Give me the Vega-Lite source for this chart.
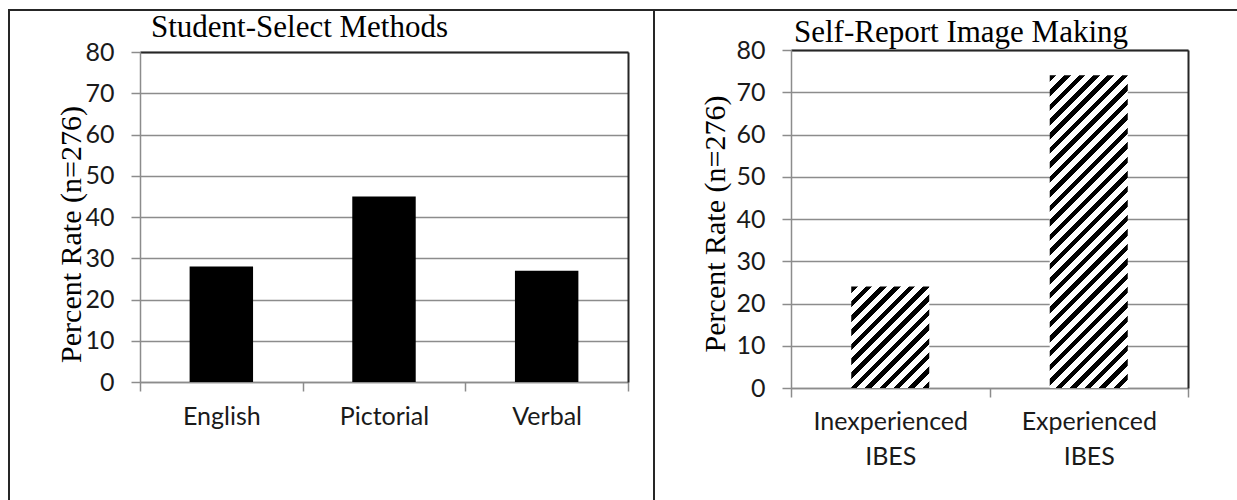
{
  "$schema": "https://vega.github.io/schema/vega-lite/v6.json",
  "padding": {"left": 8, "top": 9, "right": 0, "bottom": 0},
  "background": "white",
  "bounds": "flush",
  "spacing": 0,
  "config": {
    "view": {"stroke": "#262626", "strokeWidth": 2},
    "axis": {
      "labelFont": "Lato", "labelFontSize": 25, "labelColor": "#1a1a1a",
      "titleFont": "Liberation Serif", "titleFontSize": 30, "titleFontWeight": "normal", "titleColor": "#000",
      "gridColor": "#8c8c8c", "gridWidth": 1.5, "domainColor": "#8c8c8c", "domainWidth": 1.5,
      "tickColor": "#8c8c8c", "tickWidth": 1.5, "tickSize": 9
    },
    "title": {"font": "Liberation Serif", "fontSize": 31, "fontWeight": "normal", "color": "#000", "anchor": "start", "frame": "group", "offset": 0, "baseline": "alphabetic"}
  },
  "datasets": {
    "methods": [
      {"method": "English", "percent": 28},
      {"method": "Pictorial", "percent": 45},
      {"method": "Verbal", "percent": 27}
    ],
    "imaging": [
      {"group": "Inexperienced IBES", "percent": 24},
      {"group": "Experienced IBES", "percent": 74}
    ]
  },
  "hconcat": [
    {
      "width": 645,
      "height": 492,
      "title": {"text": "Student-Select Methods", "dx": 142, "dy": 38},
      "data": {"name": "methods"},
      "resolve": {"axis": {"x": "independent", "y": "independent"}},
      "layer": [
        {
          "mark": {"type": "bar", "color": "#000", "width": {"band": 0.39}},
          "encoding": {
            "x": {
              "field": "method", "type": "nominal", "sort": null,
              "scale": {"range": [131, 619], "paddingInner": 0, "paddingOuter": 0},
              "axis": {"orient": "bottom", "offset": -120, "title": null, "labelAngle": 0, "tickBand": "extent", "grid": false, "labelBaseline": "alphabetic", "labelPadding": 33}
            },
            "y": {
              "field": "percent", "type": "quantitative",
              "scale": {"domain": [0, 80], "range": [372, 42], "nice": false},
              "axis": {"orient": "left", "offset": -131, "values": [0, 10, 20, 30, 40, 50, 60, 70, 80], "grid": true, "title": "Percent Rate (n=276)", "titleX": -54, "titleY": 224, "labelPadding": 17}
            }
          }
        },
        {
          "mark": {"type": "bar", "opacity": 0, "width": {"band": 0.39}},
          "encoding": {
            "x": {
              "field": "method", "type": "nominal", "sort": null,
              "axis": {"orient": "top", "offset": -42, "labels": false, "ticks": false, "grid": false, "title": null, "domainColor": "#262626", "domainWidth": 2}
            },
            "y": {
              "field": "percent", "type": "quantitative",
              "axis": {"orient": "right", "offset": -26, "labels": false, "ticks": false, "grid": false, "title": null, "domainColor": "#262626", "domainWidth": 2}
            }
          }
        }
      ]
    },
    {
      "width": 588,
      "height": 492,
      "title": {"text": "Self-Report Image Making", "dx": 140, "dy": 43},
      "data": {"name": "imaging"},
      "resolve": {"axis": {"x": "independent", "y": "independent"}},
      "layer": [
        {
          "mark": {"type": "bar", "width": {"band": 0.393}},
          "encoding": {
            "x": {
              "field": "group", "type": "nominal", "sort": null,
              "scale": {"range": [137, 534], "paddingInner": 0, "paddingOuter": 0},
              "axis": {"orient": "bottom", "offset": -114, "title": null, "labelAngle": 0, "tickBand": "extent", "grid": false, "labelBaseline": "alphabetic", "labelPadding": 32, "labelExpr": "split(datum.label, ' ')", "labelLineHeight": 35}
            },
            "y": {
              "field": "percent", "type": "quantitative",
              "scale": {"domain": [0, 80], "range": [378, 40], "nice": false},
              "axis": {"orient": "left", "offset": -137, "values": [0, 10, 20, 30, 40, 50, 60, 70, 80], "grid": true, "title": "Percent Rate (n=276)", "titleX": -61, "titleY": 213.5, "labelPadding": 17}
            },
            "fill": {
              "condition": {
                "test": "datum.group === 'Inexperienced IBES'",
                "value": {
                  "gradient": "linear", "x1": 0, "y1": 0, "x2": 0.855, "y2": 1.1115,
                  "stops": [
                    {"offset": 0, "color": "#000"}, {"offset": 0.036, "color": "#000"}, {"offset": 0.036, "color": "#fff"}, {"offset": 0.08, "color": "#fff"},
                    {"offset": 0.08, "color": "#000"}, {"offset": 0.116, "color": "#000"}, {"offset": 0.116, "color": "#fff"}, {"offset": 0.16, "color": "#fff"},
                    {"offset": 0.16, "color": "#000"}, {"offset": 0.196, "color": "#000"}, {"offset": 0.196, "color": "#fff"}, {"offset": 0.24, "color": "#fff"},
                    {"offset": 0.24, "color": "#000"}, {"offset": 0.276, "color": "#000"}, {"offset": 0.276, "color": "#fff"}, {"offset": 0.32, "color": "#fff"},
                    {"offset": 0.32, "color": "#000"}, {"offset": 0.356, "color": "#000"}, {"offset": 0.356, "color": "#fff"}, {"offset": 0.40, "color": "#fff"},
                    {"offset": 0.40, "color": "#000"}, {"offset": 0.436, "color": "#000"}, {"offset": 0.436, "color": "#fff"}, {"offset": 0.48, "color": "#fff"},
                    {"offset": 0.48, "color": "#000"}, {"offset": 0.516, "color": "#000"}, {"offset": 0.516, "color": "#fff"}, {"offset": 0.56, "color": "#fff"},
                    {"offset": 0.56, "color": "#000"}, {"offset": 0.596, "color": "#000"}, {"offset": 0.596, "color": "#fff"}, {"offset": 0.64, "color": "#fff"},
                    {"offset": 0.64, "color": "#000"}, {"offset": 0.676, "color": "#000"}, {"offset": 0.676, "color": "#fff"}, {"offset": 0.72, "color": "#fff"},
                    {"offset": 0.72, "color": "#000"}, {"offset": 0.756, "color": "#000"}, {"offset": 0.756, "color": "#fff"}, {"offset": 0.80, "color": "#fff"},
                    {"offset": 0.80, "color": "#000"}, {"offset": 0.836, "color": "#000"}, {"offset": 0.836, "color": "#fff"}, {"offset": 0.88, "color": "#fff"},
                    {"offset": 0.88, "color": "#000"}, {"offset": 0.916, "color": "#000"}, {"offset": 0.916, "color": "#fff"}, {"offset": 0.96, "color": "#fff"},
                    {"offset": 0.96, "color": "#000"}, {"offset": 0.996, "color": "#000"}, {"offset": 0.996, "color": "#fff"}, {"offset": 1, "color": "#fff"}
                  ]
                }
              },
              "value": {
                "gradient": "linear", "x1": 0, "y1": 0, "x2": 0.29346, "y2": 1.17629,
                "stops": [
                  {"offset": 0, "color": "#000"}, {"offset": 0.0167, "color": "#000"}, {"offset": 0.0167, "color": "#fff"}, {"offset": 0.0370, "color": "#fff"},
                  {"offset": 0.0370, "color": "#000"}, {"offset": 0.0537, "color": "#000"}, {"offset": 0.0537, "color": "#fff"}, {"offset": 0.0741, "color": "#fff"},
                  {"offset": 0.0741, "color": "#000"}, {"offset": 0.0907, "color": "#000"}, {"offset": 0.0907, "color": "#fff"}, {"offset": 0.1111, "color": "#fff"},
                  {"offset": 0.1111, "color": "#000"}, {"offset": 0.1278, "color": "#000"}, {"offset": 0.1278, "color": "#fff"}, {"offset": 0.1481, "color": "#fff"},
                  {"offset": 0.1481, "color": "#000"}, {"offset": 0.1648, "color": "#000"}, {"offset": 0.1648, "color": "#fff"}, {"offset": 0.1852, "color": "#fff"},
                  {"offset": 0.1852, "color": "#000"}, {"offset": 0.2019, "color": "#000"}, {"offset": 0.2019, "color": "#fff"}, {"offset": 0.2222, "color": "#fff"},
                  {"offset": 0.2222, "color": "#000"}, {"offset": 0.2389, "color": "#000"}, {"offset": 0.2389, "color": "#fff"}, {"offset": 0.2593, "color": "#fff"},
                  {"offset": 0.2593, "color": "#000"}, {"offset": 0.2759, "color": "#000"}, {"offset": 0.2759, "color": "#fff"}, {"offset": 0.2963, "color": "#fff"},
                  {"offset": 0.2963, "color": "#000"}, {"offset": 0.3130, "color": "#000"}, {"offset": 0.3130, "color": "#fff"}, {"offset": 0.3333, "color": "#fff"},
                  {"offset": 0.3333, "color": "#000"}, {"offset": 0.3500, "color": "#000"}, {"offset": 0.3500, "color": "#fff"}, {"offset": 0.3704, "color": "#fff"},
                  {"offset": 0.3704, "color": "#000"}, {"offset": 0.3870, "color": "#000"}, {"offset": 0.3870, "color": "#fff"}, {"offset": 0.4074, "color": "#fff"},
                  {"offset": 0.4074, "color": "#000"}, {"offset": 0.4241, "color": "#000"}, {"offset": 0.4241, "color": "#fff"}, {"offset": 0.4444, "color": "#fff"},
                  {"offset": 0.4444, "color": "#000"}, {"offset": 0.4611, "color": "#000"}, {"offset": 0.4611, "color": "#fff"}, {"offset": 0.4815, "color": "#fff"},
                  {"offset": 0.4815, "color": "#000"}, {"offset": 0.4981, "color": "#000"}, {"offset": 0.4981, "color": "#fff"}, {"offset": 0.5185, "color": "#fff"},
                  {"offset": 0.5185, "color": "#000"}, {"offset": 0.5352, "color": "#000"}, {"offset": 0.5352, "color": "#fff"}, {"offset": 0.5556, "color": "#fff"},
                  {"offset": 0.5556, "color": "#000"}, {"offset": 0.5722, "color": "#000"}, {"offset": 0.5722, "color": "#fff"}, {"offset": 0.5926, "color": "#fff"},
                  {"offset": 0.5926, "color": "#000"}, {"offset": 0.6093, "color": "#000"}, {"offset": 0.6093, "color": "#fff"}, {"offset": 0.6296, "color": "#fff"},
                  {"offset": 0.6296, "color": "#000"}, {"offset": 0.6463, "color": "#000"}, {"offset": 0.6463, "color": "#fff"}, {"offset": 0.6667, "color": "#fff"},
                  {"offset": 0.6667, "color": "#000"}, {"offset": 0.6833, "color": "#000"}, {"offset": 0.6833, "color": "#fff"}, {"offset": 0.7037, "color": "#fff"},
                  {"offset": 0.7037, "color": "#000"}, {"offset": 0.7204, "color": "#000"}, {"offset": 0.7204, "color": "#fff"}, {"offset": 0.7407, "color": "#fff"},
                  {"offset": 0.7407, "color": "#000"}, {"offset": 0.7574, "color": "#000"}, {"offset": 0.7574, "color": "#fff"}, {"offset": 0.7778, "color": "#fff"},
                  {"offset": 0.7778, "color": "#000"}, {"offset": 0.7944, "color": "#000"}, {"offset": 0.7944, "color": "#fff"}, {"offset": 0.8148, "color": "#fff"},
                  {"offset": 0.8148, "color": "#000"}, {"offset": 0.8315, "color": "#000"}, {"offset": 0.8315, "color": "#fff"}, {"offset": 0.8519, "color": "#fff"},
                  {"offset": 0.8519, "color": "#000"}, {"offset": 0.8685, "color": "#000"}, {"offset": 0.8685, "color": "#fff"}, {"offset": 0.8889, "color": "#fff"},
                  {"offset": 0.8889, "color": "#000"}, {"offset": 0.9056, "color": "#000"}, {"offset": 0.9056, "color": "#fff"}, {"offset": 0.9259, "color": "#fff"},
                  {"offset": 0.9259, "color": "#000"}, {"offset": 0.9426, "color": "#000"}, {"offset": 0.9426, "color": "#fff"}, {"offset": 0.9630, "color": "#fff"},
                  {"offset": 0.9630, "color": "#000"}, {"offset": 0.9796, "color": "#000"}, {"offset": 0.9796, "color": "#fff"}, {"offset": 1, "color": "#fff"}
                ]
              }
            }
          }
        },
        {
          "mark": {"type": "bar", "opacity": 0, "width": {"band": 0.393}},
          "encoding": {
            "x": {
              "field": "group", "type": "nominal", "sort": null,
              "axis": {"orient": "top", "offset": -40, "labels": false, "ticks": false, "grid": false, "title": null, "domainColor": "#262626", "domainWidth": 2}
            },
            "y": {
              "field": "percent", "type": "quantitative",
              "axis": {"orient": "right", "offset": -54, "labels": false, "ticks": false, "grid": false, "title": null, "domainColor": "#262626", "domainWidth": 2}
            }
          }
        }
      ]
    }
  ]
}
